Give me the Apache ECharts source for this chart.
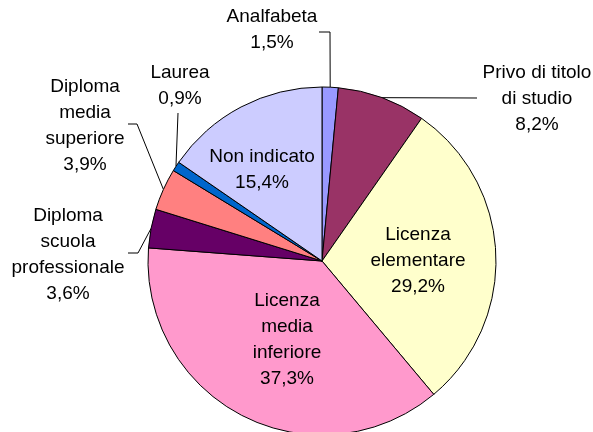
<!DOCTYPE html>
<html>
<head>
<meta charset="utf-8">
<script src="https://cdn.jsdelivr.net/npm/echarts@6/dist/echarts.min.js"></script>
<style>
    html, body { margin: 0; padding: 0; background: #fff; }
    #chart { width: 593px; height: 432px; }
</style>
</head>
<body>
<div id="chart"></div>
<script>
//dati
const categorie = ['Analfabeta', 'Privo di titolo\ndi studio', 'Licenza\nelementare', 'Licenza\nmedia\ninferiore',
    'Diploma\nscuola\nprofessionale', 'Diploma\nmedia\nsuperiore', 'Laurea', 'Non indicato'];
const valori = [1.5, 8.2, 29.2, 37.3, 3.6, 3.9, 0.9, 15.4];
const colori = ['#9999FF', '#993366', '#FFFFCC', '#FF99CC', '#660066', '#FF8080', '#0066CC', '#CCCCFF'];
const interni = [false, false, true, true, false, false, false, true];

//posizioni delle etichette (centro del testo) e spezzate delle linee guida
const posEtichette = [
    { x: 272, y: 30, linea: [[330, 32], [319, 32]] },
    { x: 537, y: 99, linea: [[477, 98]] },
    { x: 418, y: 261 },
    { x: 287, y: 340 },
    { x: 68, y: 255, linea: [[138, 253], [128, 253]] },
    { x: 85, y: 126, linea: [[137, 124], [128, 124]] },
    { x: 180, y: 86, linea: [[178, 113]] },
    { x: 262, y: 170 }
];

let dati = categorie.map((nome, i) => {
    return {
        name: nome,
        value: valori[i],
        itemStyle: { color: colori[i] },
        label: { position: interni[i] ? 'inside' : 'outside' },
        labelLine: { show: !interni[i] }
    };
});

let chart = echarts.init(document.getElementById('chart'));
chart.setOption({
    animation: false,
    backgroundColor: '#fff',
    series: [{
        type: 'pie',
        center: [322, 261],
        radius: 174,
        startAngle: 90,
        clockwise: true,
        data: dati,
        itemStyle: { borderColor: '#000', borderWidth: 1 },
        label: {
            color: '#000',
            fontFamily: 'Liberation Sans, Arial, sans-serif',
            fontSize: 19,
            lineHeight: 26,
            align: 'center',
            formatter: p => p.name + '\n' + p.value.toFixed(1).replace('.', ',') + '%'
        },
        labelLine: {
            lineStyle: { color: '#000', width: 1 },
            length: 10,
            length2: 10
        },
        labelLayout: function (params) {
            let pos = posEtichette[params.dataIndex];
            let res = { x: pos.x, y: pos.y, align: 'center', verticalAlign: 'middle' };
            if (pos.linea && params.labelLinePoints) {
                res.labelLinePoints = [params.labelLinePoints[0]].concat(pos.linea);
            }
            return res;
        }
    }]
});
</script>
</body>
</html>
